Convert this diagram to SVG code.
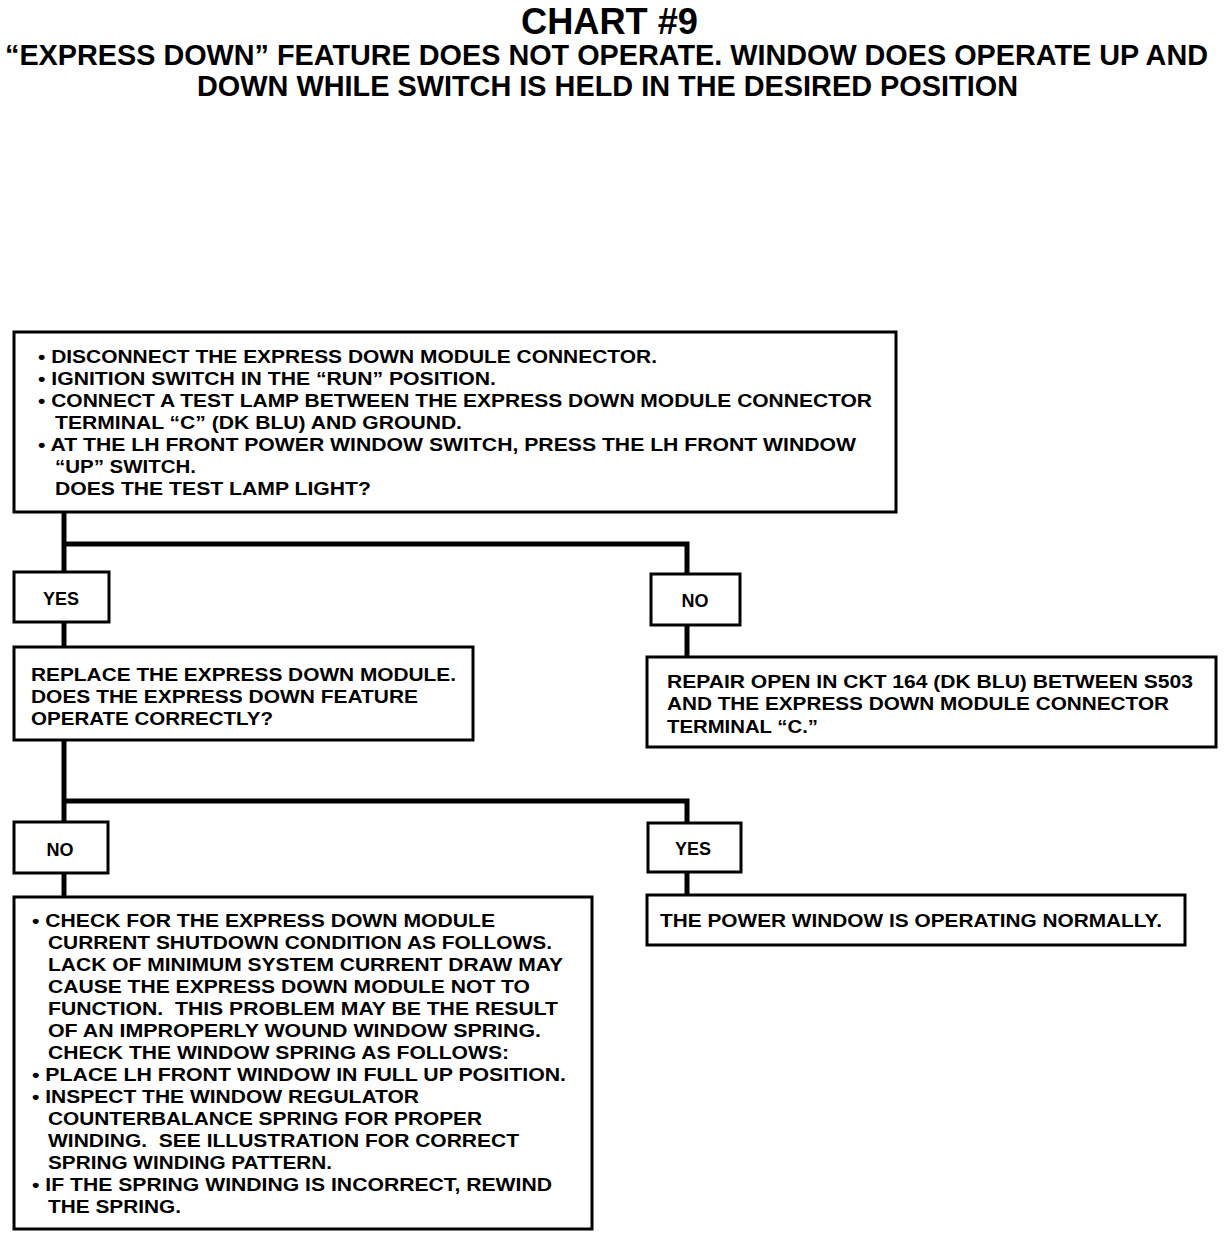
<svg xmlns="http://www.w3.org/2000/svg" width="1232" height="1238" viewBox="0 0 1232 1238">
<style>
.box{fill:#fff;stroke:#000;stroke-width:3}
.t{font-family:"Liberation Sans",Arial,sans-serif;font-weight:bold;font-size:18px;fill:#000}
.h{font-family:"Liberation Sans",Arial,sans-serif;font-weight:bold;fill:#000}
.c{fill:none;stroke:#000;stroke-width:5}
</style>
<rect width="1232" height="1238" fill="#fff"/>
<g id="title">
<text class="h" x="521" y="34" font-size="36" textLength="177" lengthAdjust="spacingAndGlyphs">CHART #9</text>
<text class="h" x="5" y="65" font-size="29" textLength="1203" lengthAdjust="spacingAndGlyphs">“EXPRESS DOWN” FEATURE DOES NOT OPERATE. WINDOW DOES OPERATE UP AND</text>
<text class="h" x="197" y="96" font-size="29" textLength="821" lengthAdjust="spacingAndGlyphs">DOWN WHILE SWITCH IS HELD IN THE DESIRED POSITION</text>
</g>
<g id="connectors">
<path class="c" d="M64 512V572M64 544H687V574"/>
<path class="c" d="M64 622V647"/>
<path class="c" d="M687 625V657"/>
<path class="c" d="M64 740V822M64 801H687V823"/>
<path class="c" d="M64 873V897"/>
<path class="c" d="M687 872V895"/>
</g>
<g id="step1">
<rect class="box" x="14" y="332" width="882" height="180"/>
<text class="t" x="38" y="363" textLength="619" lengthAdjust="spacingAndGlyphs">• DISCONNECT THE EXPRESS DOWN MODULE CONNECTOR.</text>
<text class="t" x="38" y="385" textLength="458" lengthAdjust="spacingAndGlyphs">• IGNITION SWITCH IN THE “RUN” POSITION.</text>
<text class="t" x="38" y="407" textLength="834" lengthAdjust="spacingAndGlyphs">• CONNECT A TEST LAMP BETWEEN THE EXPRESS DOWN MODULE CONNECTOR</text>
<text class="t" x="55" y="429" textLength="407" lengthAdjust="spacingAndGlyphs">TERMINAL “C” (DK BLU) AND GROUND.</text>
<text class="t" x="38" y="451" textLength="818" lengthAdjust="spacingAndGlyphs">• AT THE LH FRONT POWER WINDOW SWITCH, PRESS THE LH FRONT WINDOW</text>
<text class="t" x="55" y="473" textLength="141" lengthAdjust="spacingAndGlyphs">“UP” SWITCH.</text>
<text class="t" x="55" y="495" textLength="316" lengthAdjust="spacingAndGlyphs">DOES THE TEST LAMP LIGHT?</text>
</g>
<g id="yes1">
<rect class="box" x="14" y="572" width="95" height="50"/>
<text class="t" x="61" y="605" text-anchor="middle">YES</text>
</g>
<g id="no1">
<rect class="box" x="651" y="574" width="89" height="51"/>
<text class="t" x="695" y="607" text-anchor="middle">NO</text>
</g>
<g id="step2">
<rect class="box" x="14" y="647" width="459" height="93"/>
<text class="t" x="31" y="681" textLength="425" lengthAdjust="spacingAndGlyphs">REPLACE THE EXPRESS DOWN MODULE.</text>
<text class="t" x="31" y="703" textLength="387" lengthAdjust="spacingAndGlyphs">DOES THE EXPRESS DOWN FEATURE</text>
<text class="t" x="31" y="725" textLength="242" lengthAdjust="spacingAndGlyphs">OPERATE CORRECTLY?</text>
</g>
<g id="repair">
<rect class="box" x="647" y="657" width="569" height="90"/>
<text class="t" x="667" y="688" textLength="526" lengthAdjust="spacingAndGlyphs">REPAIR OPEN IN CKT 164 (DK BLU) BETWEEN S503</text>
<text class="t" x="667" y="710" textLength="502" lengthAdjust="spacingAndGlyphs">AND THE EXPRESS DOWN MODULE CONNECTOR</text>
<text class="t" x="667" y="733" textLength="151" lengthAdjust="spacingAndGlyphs">TERMINAL “C.”</text>
</g>
<g id="no2">
<rect class="box" x="14" y="822" width="94" height="51"/>
<text class="t" x="60" y="856" text-anchor="middle">NO</text>
</g>
<g id="yes2">
<rect class="box" x="648" y="823" width="93" height="49"/>
<text class="t" x="693" y="855" text-anchor="middle">YES</text>
</g>
<g id="step3">
<rect class="box" x="14" y="897" width="578" height="332"/>
<text class="t" x="32" y="927" textLength="463" lengthAdjust="spacingAndGlyphs">• CHECK FOR THE EXPRESS DOWN MODULE</text>
<text class="t" x="48" y="949" textLength="504" lengthAdjust="spacingAndGlyphs">CURRENT SHUTDOWN CONDITION AS FOLLOWS.</text>
<text class="t" x="48" y="971" textLength="515" lengthAdjust="spacingAndGlyphs">LACK OF MINIMUM SYSTEM CURRENT DRAW MAY</text>
<text class="t" x="48" y="993" textLength="482" lengthAdjust="spacingAndGlyphs">CAUSE THE EXPRESS DOWN MODULE NOT TO</text>
<text class="t" x="48" y="1015" textLength="510" lengthAdjust="spacingAndGlyphs" xml:space="preserve">FUNCTION.  THIS PROBLEM MAY BE THE RESULT</text>
<text class="t" x="48" y="1037" textLength="493" lengthAdjust="spacingAndGlyphs">OF AN IMPROPERLY WOUND WINDOW SPRING.</text>
<text class="t" x="48" y="1059" textLength="461" lengthAdjust="spacingAndGlyphs">CHECK THE WINDOW SPRING AS FOLLOWS:</text>
<text class="t" x="32" y="1081" textLength="534" lengthAdjust="spacingAndGlyphs">• PLACE LH FRONT WINDOW IN FULL UP POSITION.</text>
<text class="t" x="32" y="1103" textLength="387" lengthAdjust="spacingAndGlyphs">• INSPECT THE WINDOW REGULATOR</text>
<text class="t" x="48" y="1125" textLength="434" lengthAdjust="spacingAndGlyphs">COUNTERBALANCE SPRING FOR PROPER</text>
<text class="t" x="48" y="1147" textLength="471" lengthAdjust="spacingAndGlyphs" xml:space="preserve">WINDING.  SEE ILLUSTRATION FOR CORRECT</text>
<text class="t" x="48" y="1169" textLength="284" lengthAdjust="spacingAndGlyphs">SPRING WINDING PATTERN.</text>
<text class="t" x="32" y="1191" textLength="520" lengthAdjust="spacingAndGlyphs">• IF THE SPRING WINDING IS INCORRECT, REWIND</text>
<text class="t" x="48" y="1213" textLength="133" lengthAdjust="spacingAndGlyphs">THE SPRING.</text>
</g>
<g id="normal">
<rect class="box" x="647" y="895" width="538" height="50"/>
<text class="t" x="660" y="927" textLength="502" lengthAdjust="spacingAndGlyphs">THE POWER WINDOW IS OPERATING NORMALLY.</text>
</g>
</svg>
